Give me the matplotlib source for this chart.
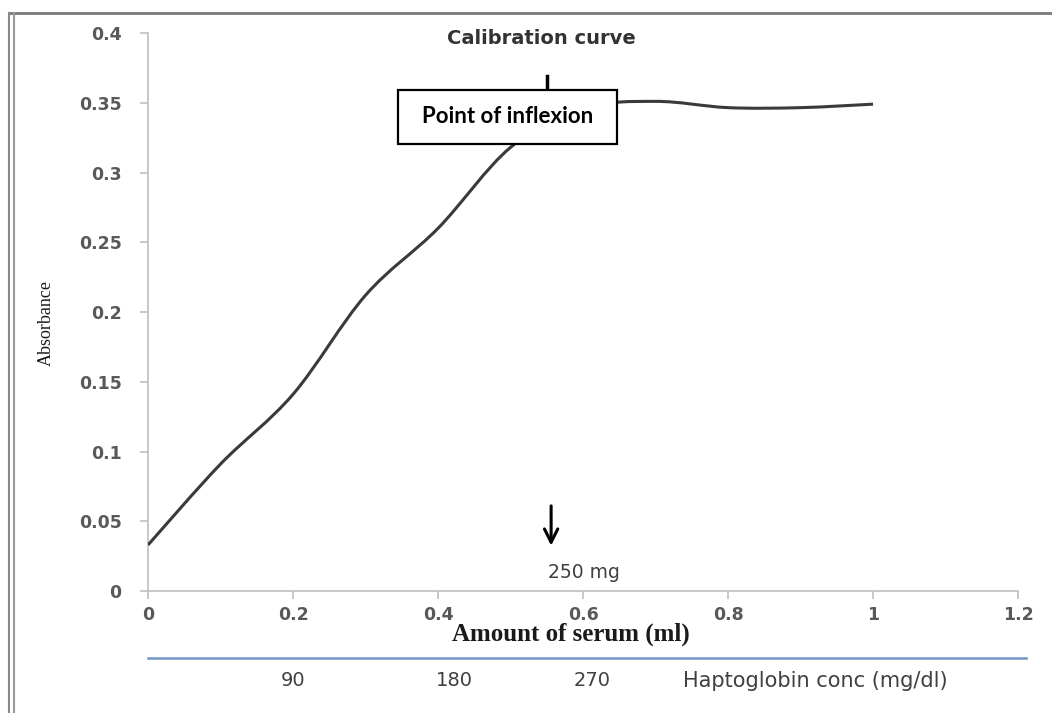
import numpy as np
import matplotlib
matplotlib.use('Agg')
import matplotlib.pyplot as plt
from matplotlib.path import Path
from matplotlib.patches import PathPatch, Rectangle
from matplotlib.lines import Line2D

# data
serum_ml = [0.0, 0.1, 0.2, 0.3, 0.4, 0.5, 0.6, 0.7, 0.8, 0.9, 1.0]
absorbance = [0.033, 0.091, 0.141, 0.212, 0.260, 0.318, 0.346, 0.351, 0.3465, 0.3465, 0.349]
x_ticks = [0, 0.2, 0.4, 0.6, 0.8, 1, 1.2]
x_ticklabels = ['0', '0.2', '0.4', '0.6', '0.8', '1', '1.2']
y_ticks = [0, 0.05, 0.1, 0.15, 0.2, 0.25, 0.3, 0.35, 0.4]
y_ticklabels = ['0', '0.05', '0.1', '0.15', '0.2', '0.25', '0.3', '0.35', '0.4']
hapto_labels = ['90', '180', '270']
hapto_pos = [0.2, 0.422, 0.612]   # where they sit under the serum axis
inflexion_x = 0.55
marker_x = 0.556


'''
smooth line through points (like excel "smoothed line"), catmull-rom -> bezier
'''
def smooth_path(x, y):
	pts = np.column_stack([x, y])
	n = len(pts)
	verts = [pts[0]]
	codes = [Path.MOVETO]
	for i in range(n - 1):
		p0 = pts[i - 1] if i > 0 else pts[i]
		p1 = pts[i]
		p2 = pts[i + 1]
		p3 = pts[i + 2] if i + 2 < n else pts[i + 1]
		c1 = p1 + (p2 - p0) / 6.0
		c2 = p2 - (p3 - p1) / 6.0
		verts += [c1, c2, p2]
		codes += [Path.CURVE4] * 3
	return Path(verts, codes)


fig = plt.figure(figsize=(10.52, 7.13), dpi=100)
ax = fig.add_axes([0.1407, 0.1711, 0.827, 0.7826])

grey = '#bfbfbf'
tick_col = '#595959'

ax.add_patch(PathPatch(smooth_path(serum_ml, absorbance), fill=False,
	edgecolor='#3a3a3a', lw=2.2, zorder=3))

ax.set_xlim(0, 1.2)
ax.set_ylim(0, 0.4)
ax.set_xticks(x_ticks)
ax.set_xticklabels(x_ticklabels)
ax.set_yticks(y_ticks)
ax.set_yticklabels(y_ticklabels)
for s in ['top', 'right']:
	ax.spines[s].set_visible(False)
for s in ['left', 'bottom']:
	ax.spines[s].set_color(grey)
	ax.spines[s].set_linewidth(1.2)
ax.tick_params(axis='both', colors=grey, length=6, width=1.2, labelcolor=tick_col, labelsize=12.5)
ax.tick_params(axis='y', pad=13)
ax.tick_params(axis='x', pad=5)
for lab in ax.get_xticklabels() + ax.get_yticklabels():
	lab.set_fontweight('bold')

ax.set_xlabel('Amount of serum (ml)', family='Liberation Serif', fontweight='bold', fontsize=18, color='#1a1a1a')
ax.xaxis.set_label_coords(0.486, -0.056)
ax.set_ylabel('Absorbance', family='Liberation Serif', fontsize=13, color='#1a1a1a')
ax.yaxis.set_label_coords(-0.107, 0.48)

ax.text(0.452, 0.991, 'Calibration curve', transform=ax.transAxes, ha='center', va='center',
	fontsize=14, fontweight='bold', color='#333333')

# point of inflexion box + arrow behind it
ax.plot([inflexion_x, inflexion_x], [0.369, 0.355], color='black', lw=2.5, zorder=4, clip_on=False)
ax.add_patch(Rectangle((0.345, 0.3207), 0.302, 0.0386, facecolor='white', edgecolor='black',
	lw=1.6, zorder=5))
ax.text(0.496, 0.3400, 'Point of inflexion', ha='center', va='center', fontsize=16,
	family='Lato', fontweight='bold', color='black', zorder=6)

ax.annotate('', xy=(marker_x, 0.0305), xytext=(marker_x, 0.063),
	arrowprops=dict(arrowstyle='->', lw=2.2, color='black', mutation_scale=24))
ax.text(0.601, 0.0136, '250 mg', ha='center', va='center', fontsize=13.5, color='#404040')

# second scale under the axis
ax.add_line(Line2D([0, 1.009], [-0.120, -0.120], transform=ax.transAxes, color='#7393c0',
	lw=1.8, clip_on=False))
for lab, pos in zip(hapto_labels, hapto_pos):
	ax.text(pos, -0.161, lab, transform=ax.get_xaxis_transform(), ha='center', va='center',
		fontsize=14, color='#404040')
ax.text(0.92, -0.161, 'Haptoglobin conc (mg/dl)', transform=ax.get_xaxis_transform(),
	ha='center', va='center', fontsize=15, color='#404040')

# page frame
fig.add_artist(Line2D([10 / 1052, 1], [1 - 13 / 713, 1 - 13 / 713], transform=fig.transFigure,
	color='#7a7a7a', lw=2))
fig.add_artist(Line2D([9.5 / 1052, 9.5 / 1052], [0, 1 - 13 / 713], transform=fig.transFigure,
	color='#8a8a8a', lw=1.5))
fig.add_artist(Line2D([14 / 1052, 14 / 1052], [0, 1 - 13 / 713], transform=fig.transFigure,
	color='#9a9a9a', lw=1.5))

fig.savefig('out.png', dpi=100, facecolor='white')
